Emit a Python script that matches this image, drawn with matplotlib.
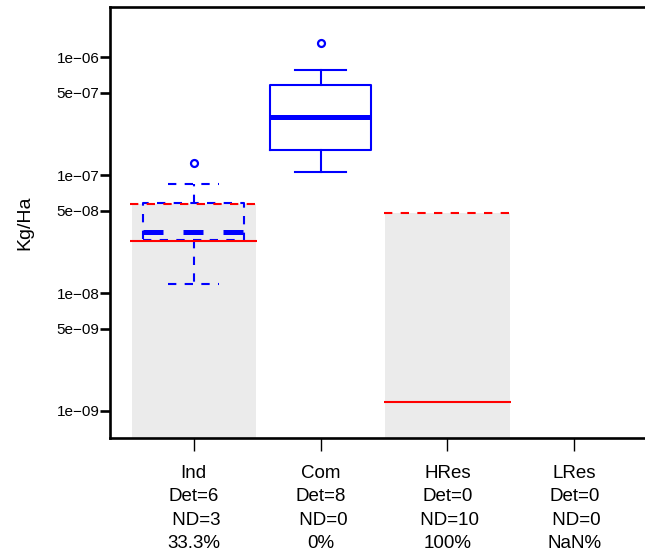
import matplotlib
matplotlib.use("Agg")
import matplotlib.pyplot as plt
import numpy as np

plt.rcParams['font.family'] = ['Liberation Sans', 'DejaVu Sans']

# ---- data ----
categories = ['Ind', 'Com', 'HRes', 'LRes']
det = [6, 8, 0, 0]
nd = [3, 0, 10, 0]
pct = ['33.3%', '0%', '100%', 'NaN%']

# boxplot stats (Ind, Com)
box_pos = [1, 2]
box_whislo = [1.19e-08, 1.07e-07]
box_q1 = [2.84e-08, 1.64e-07]
box_med = [3.28e-08, 3.13e-07]
box_q3 = [5.78e-08, 5.82e-07]
box_whishi = [8.4e-08, 7.8e-07]
box_fliers = [[1.26e-07], [1.33e-06]]
box_dashed = [True, False]

# grey bars (upper value) and red solid lines
bar_pos = [1, 3]
bar_top = [5.75e-08, 4.75e-08]
red_solid = [2.77e-08, 1.19e-09]

ytick_vals = [1e-06, 5e-07, 1e-07, 5e-08, 1e-08, 5e-09, 1e-09]
ytick_labels = ['1e\u221206', '5e\u221207', '1e\u221207', '5e\u221208',
                '1e\u221208', '5e\u221209', '1e\u221209']

# ---- figure ----
W, H = 645, 554
fig = plt.figure(figsize=(W / 100, H / 100), dpi=100)
left_px, right_px, top_px, bot_px = 110, 658, 7, 437.7
ax = fig.add_axes([left_px / W, (H - bot_px) / H,
                   (right_px - left_px) / W, (bot_px - top_px) / H])
ax.set_yscale('log')
ymin, ymax = 10 ** -9.2265, 10 ** -5.573
ax.set_ylim(ymin, ymax)
ax.set_xlim(0.34, 4.66)

blue = '#0000FF'
red = '#FF0000'
grey = '#EBEBEB'

# grey bars
base = 1e-12
ax.bar(bar_pos, np.array(bar_top) - base, bottom=base, width=0.98,
       color=grey, edgecolor='none', zorder=1)

# boxes
for i, p in enumerate(box_pos):
    st = [dict(whislo=box_whislo[i], q1=box_q1[i], med=box_med[i],
               q3=box_q3[i], whishi=box_whishi[i], fliers=box_fliers[i])]
    ls = (0, (4, 4)) if box_dashed[i] else '-'
    ax.bxp(st, positions=[p], widths=0.8, capwidths=0.4, showfliers=True,
           boxprops=dict(color=blue, linewidth=1.5, linestyle=ls),
           whiskerprops=dict(color=blue, linewidth=1.5, linestyle=ls),
           capprops=dict(color=blue, linewidth=1.5, linestyle=ls),
           medianprops=dict(color=blue, linewidth=3.6, linestyle=ls,
                            solid_capstyle='butt'),
           flierprops=dict(marker='o', markerfacecolor='none',
                           markeredgecolor=blue, markersize=5,
                           markeredgewidth=1.6),
           manage_ticks=False, zorder=3)

# red lines
for i, p in enumerate(bar_pos):
    ax.hlines(bar_top[i], p - 0.5, p + 0.5, colors=red, linewidth=1.5,
              linestyles=(0, (4, 4)), zorder=4)
    ax.hlines(red_solid[i], p - 0.5, p + 0.5, colors=red, linewidth=1.5,
              zorder=4)

ax.set_xlim(0.34, 4.66)

# axes styling
ax.spines['right'].set_visible(False)
for s in ['left', 'top', 'bottom']:
    ax.spines[s].set_linewidth(1.9)
ax.set_yticks(ytick_vals)
ax.set_yticklabels(ytick_labels, fontsize=11)
ax.yaxis.set_minor_locator(matplotlib.ticker.NullLocator())
ax.tick_params(axis='y', length=7, width=1.9, pad=0.5)

xlabels = [f"{c}\nDet={d}\n ND={n}\n{p}" for c, d, n, p in zip(categories, det, nd, pct)]
ax.set_xticks([1, 2, 3, 4])
ax.set_xticklabels(xlabels, fontsize=13.5, linespacing=1.5)
ax.tick_params(axis='x', length=9.4, width=1.0, pad=10)

ax.set_ylabel('Kg/Ha', fontsize=14)
ax.yaxis.set_label_coords(-(110 - 33) / (right_px - left_px), 0.5)

fig.savefig('out.png', dpi=100)
